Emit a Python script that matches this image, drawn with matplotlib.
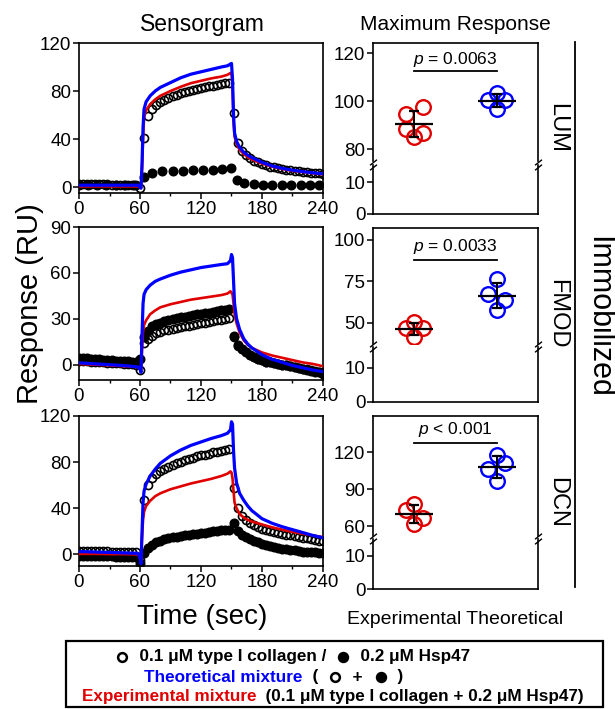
import matplotlib
matplotlib.use('Agg')
import matplotlib.pyplot as plt
import matplotlib.transforms as mtransforms
import numpy as np
from matplotlib.lines import Line2D
from matplotlib.patches import Rectangle
from matplotlib.ticker import MultipleLocator

plt.rcParams['font.family'] = ['Liberation Sans', 'DejaVu Sans']
plt.rcParams['mathtext.fontset'] = 'custom'
plt.rcParams['mathtext.it'] = 'Liberation Sans:italic'
plt.rcParams['mathtext.rm'] = 'Liberation Sans'

W, H = 615, 709
RED = '#e00000'
BLUE = '#0000ff'

# ---- sensorgram data ----
# circles (0.1 uM collagen, 0.2 uM Hsp47) read every 4 s
t_circ = np.arange(0, 241, 4)
# lines (theoretical / experimental mixture)
t_line = [0, 10, 20, 30, 40, 50, 58, 60, 61, 62, 63, 64, 66, 70, 75, 80, 90, 100,
          110, 120, 130, 140, 146, 149, 150, 151, 152, 153, 155, 158, 162, 166,
          170, 180, 190, 200, 210, 220, 230, 240]

lum_coll = [2.5, 2.5, 2.5, 2.5, 2.5, 2.5, 2.5, 2.5, 2, 2, 2, 2, 2, 2, 2,
            -0.5, 41, 59, 65, 68, 70.5, 72.5, 74, 75.5, 77, 78, 79, 80, 81, 82,
            82.5, 83.5, 84, 84.5, 85, 86, 86.5, 87, 61.5, 37, 30, 26.5, 24, 22,
            20.5, 19, 18, 17, 16.5, 15.5, 15, 14.5, 14, 13.5, 13, 12.5, 12.5,
            12, 11.5, 11.5, 11]
lum_hsp_t = [0, 9, 18, 27, 36, 45, 54, 64, 72, 82, 92, 102, 112, 122, 132, 141,
             150, 155, 162, 172, 181, 190, 200, 209, 218, 227, 236]
lum_hsp = [1.5, 1.5, 1.5, 1.5, 1.5, 1.5, 1.5, 8.5, 12, 13, 13.5, 13.5, 14, 14,
           14.5, 15, 16, 5.5, 3.5, 2.5, 2, 2, 1.5, 1.5, 1.5, 1.5, 1.5]
lum_theo = [1.5, 1.5, 1.5, 1.5, 1.5, 1.5, 1.5, 0, -1, 20, 50, 65, 71, 76, 80, 83,
            87, 91, 94, 96, 98, 100, 101, 102.5, 103, 90, 60, 45, 38, 33, 29,
            26.5, 24.5, 20.5, 17.5, 15.5, 14, 12.8, 11.8, 11]
lum_expt = [0.5, 0.5, 0.5, 0.5, 0.5, 0.5, 0.5, 0, -0.5, 15, 40, 58, 64, 69, 73,
            76, 80, 83.5, 86.5, 88.5, 90.5, 92, 93.5, 95, 95, 85, 55, 42, 36, 31,
            27.5, 25, 23, 19.5, 17, 15, 13.5, 12.5, 11.5, 10.5]

fmod_coll = [2.5, 2.3, 2.2, 2, 1.8, 1.6, 1.5, 1.3, 1.1, 1, 0.8, 0.6, 0.4, 0.2, 0,
             -3.5, 14, 16.5, 19, 20.5, 21.5, 22.5, 23, 23.5, 24, 24.5, 25, 25.5,
             26, 26.5, 27, 27.5, 28, 28.5, 29, 29.5, 30, 30.5, 18, 12.5, 10, 8,
             6.5, 5, 4, 3, 2, 1.5, 1, 0.5, 0, -0.5, -1, -1.5, -2, -2.5, -3, -3.5,
             -4, -4.5, -5]
fmod_hsp = [4.5, 4.3, 4.1, 3.9, 3.7, 3.5, 3.3, 3.1, 2.9, 2.7, 2.5, 2.3, 2.1, 1.9,
            1.7, 3.5, 18, 22, 25, 26.5, 27.5, 28.5, 29.5, 30, 30.5, 31, 31.5, 32,
            32.5, 33, 33, 33.5, 34, 34.5, 35, 35.5, 36, 36.5, 19, 13, 10, 8, 6.5,
            5, 4, 3, 2, 1.5, 1, 0.5, 0, -0.5, -1, -1.5, -2, -2.5, -3.5, -4, -4.5,
            -5, -6]
fmod_theo = [1.2, 0.8, 0.4, 0, -0.4, -0.9, -1.5, -3, -5, 20, 40, 46, 49, 52, 54.5,
             56, 58.5, 60.5, 62, 63.5, 64.5, 65.5, 66, 68, 72, 70, 55, 40, 30, 23,
             17, 13.5, 11, 6.5, 3.5, 1.5, -0.5, -2, -3.5, -4.5]
fmod_expt = [0.5, 0.2, -0.1, -0.4, -0.8, -1.2, -1.6, -2.5, -4, 10, 22, 26, 29, 33,
             35.5, 37.5, 39.5, 41, 42.5, 43.5, 44.5, 45.5, 46.5, 48, 47, 46, 40,
             33, 27, 21, 16, 13, 11, 8, 6, 4.5, 3, 1.5, 0.5, -1]

dcn_coll = [3, 3, 3, 3, 2.8, 2.8, 2.6, 2.6, 2.4, 2.4, 2.2, 2.2, 2, 2, 2, -5, 47,
            60, 66, 70, 72, 74, 76, 77.5, 79, 80, 81.5, 82.5, 84, 85, 86, 86.5,
            87.5, 88.5, 89, 90, 90.5, 91, 57.5, 40, 33, 30, 27.5, 25.5, 24, 22.5,
            21.5, 20.5, 19.5, 18.5, 18, 17, 16.5, 16, 15, 14.5, 14, 13, 12.5, 12,
            11.5]
dcn_hsp = [-1, -1, -1, -1.2, -1.2, -1.4, -1.4, -1.6, -1.6, -1.8, -1.8, -2, -2, -2,
           -2.5, -7, 1, 6, 8.5, 10.5, 12, 13, 14, 15, 15.5, 16, 16.5, 17, 17.5,
           18, 18.5, 19, 19.5, 20, 20.5, 21, 21, 21.5, 27.5, 20, 17, 15, 13.5, 12,
           10.5, 9.5, 8.5, 7.5, 6.5, 6, 5, 4.5, 4, 3.5, 3, 2.5, 2.5, 2, 2, 1.5,
           1.5]
dcn_theo = [2.5, 2.3, 2, 1.8, 1.5, 1.2, 1, -3, -8, 20, 45, 55, 61, 68, 74, 79,
            85.5, 90.5, 94.5, 97.5, 100.5, 103, 105, 108, 115, 113, 90, 75, 62,
            53, 47, 42, 38, 31, 27, 24, 21.5, 19, 16.5, 14.5]
dcn_expt = [0.5, 0.5, 0.5, 0.3, 0.3, 0.2, 0, -3, -6, 15, 30, 37, 42, 46.5, 50.5,
            53, 56.5, 59, 61.5, 63.5, 65.5, 68, 70, 72, 71, 66, 55, 45, 40, 35,
            32, 30, 28.5, 26, 23.5, 21.5, 19.5, 18, 16.5, 15]

# ---- maximum response data ----
lum_exp_max = [97.6, 94.6, 88.5, 86.5, 85.1]
lum_theo_max = [103.2, 100.3, 100.3, 96.8]
fmod_exp_max = [50.4, 47.0, 47.0, 41.4]
fmod_theo_max = [76.2, 67.4, 64.0, 58.0]
dcn_exp_max = [77.8, 72.9, 66.1, 61.6]
dcn_theo_max = [117.3, 111.0, 106.5, 96.6]
p_labels = ['$p$ = 0.0063', '$p$ = 0.0033', '$p$ < 0.001']
panel_names = ['LUM', 'FMOD', 'DCN']

# horizontal scatter offsets (in steps) for overlapping points
lum_exp_jit = [1, -1, -1, 1, 0]
four_jit = [0, -1, 1, 0]
dcn_theo_jit = [0, 1, -1, 0]

fig = plt.figure(figsize=(W / 100, H / 100), dpi=100)


def px_axes(x0, y0, x1, y1):
    return fig.add_axes([x0 / W, 1 - y1 / H, (x1 - x0) / W, (y1 - y0) / H])


def style_ticks(ax):
    ax.tick_params(direction='out', length=4, width=1.1, labelsize=13.5, pad=1.5)
    ax.tick_params(which='minor', direction='out', length=2.5, width=1.0)
    for s in ax.spines.values():
        s.set_linewidth(1.2)


def sensorgram(ax, coll, hsp_t, hsp, theo, expt, ylim, yticks):
    ax.plot(t_circ, coll, 'o', ms=5.8, mfc='none', mec='k', mew=1.2, zorder=2)
    ax.plot(hsp_t, hsp, 'o', ms=6.2, mfc='k', mec='k', zorder=3)
    ax.plot(t_line, expt, color=RED, lw=1.9, zorder=4)
    ax.plot(t_line, theo, color=BLUE, lw=2.3, zorder=5)
    ax.set_xlim(0, 240)
    ax.set_ylim(*ylim)
    ax.set_xticks([0, 60, 120, 180, 240])
    ax.xaxis.set_minor_locator(MultipleLocator(30))
    ax.set_yticks(yticks)
    style_ticks(ax)


ax1 = px_axes(79, 43, 323, 193)
sensorgram(ax1, lum_coll, lum_hsp_t, lum_hsp, lum_theo, lum_expt, (-5, 120), [0, 40, 80, 120])
ax2 = px_axes(79, 227, 323, 380)
sensorgram(ax2, fmod_coll, t_circ, fmod_hsp, fmod_theo, fmod_expt, (-10, 90), [0, 30, 60, 90])
ax3 = px_axes(79, 416, 323, 566)
sensorgram(ax3, dcn_coll, t_circ, dcn_hsp, dcn_theo, dcn_expt, (-10, 120), [0, 40, 80, 120])


def break_marks(ax):
    for xa in (0, 1):
        for dy in (-2.2, 2.2):
            off = mtransforms.ScaledTranslation(0, dy / 100, fig.dpi_scale_trans)
            ax.plot([xa], [1], transform=ax.transAxes + off, marker=[(-1, -0.8), (1, 0.8)],
                    ms=5, mec='k', mew=1.0, ls='none', clip_on=False, zorder=10)


def max_panel(box, split, hi_lim, hi_ticks, lo_top, exp_vals, exp_jit, theo_vals,
              theo_jit, ptxt, p_y, bar_y):
    x0, y0, x1, y1 = box
    hi = px_axes(x0, y0, x1, split - 1.5)
    lo = px_axes(x0, split + 1.5, x1, y1)
    for ax, vals, jit, col, xc in ((hi, exp_vals, exp_jit, RED, 1), (hi, theo_vals, theo_jit, BLUE, 2)):
        xs = xc + 0.105 * np.array(jit)
        ax.plot(xs, vals, 'o', ms=10.5, mfc='none', mec=col, mew=1.7, zorder=3)
        ax.errorbar([xc], [np.mean(vals)], yerr=[np.std(vals, ddof=1)], fmt='_', ms=27,
                    mew=1.6, color='k', elinewidth=1.4, capsize=3.5, capthick=1.4, zorder=4)
    hi.plot([1, 2], [bar_y, bar_y], color='k', lw=1.3)
    hi.text(1.5, p_y, ptxt, ha='center', va='center', fontsize=12.5)
    for ax in (hi, lo):
        ax.set_xlim(0.5, 2.5)
        ax.set_xticks([])
        style_ticks(ax)
    hi.set_ylim(*hi_lim)
    hi.set_yticks(hi_ticks)
    hi.spines['bottom'].set_visible(False)
    lo.set_ylim(0, lo_top)
    lo.set_yticks([0, 10])
    lo.spines['top'].set_visible(False)
    break_marks(lo)
    return hi, lo


max_panel((373, 43, 538, 214), 163, (74.8, 124.2), [80, 100, 120], 15.5,
          lum_exp_max, lum_exp_jit, lum_theo_max, four_jit, p_labels[0], 117.5, 112.5)
max_panel((373, 228, 538, 402), 345, (37.6, 107.2), [50, 75, 100], 16.3,
          fmod_exp_max, four_jit, fmod_theo_max, four_jit, p_labels[1], 96, 88)
max_panel((373, 416, 538, 589), 537, (52.3, 149.2), [60, 90, 120], 15.3,
          dcn_exp_max, four_jit, dcn_theo_max, dcn_theo_jit, p_labels[2], 138, 127.5)


def ftext(x, y, s, **kw):
    return fig.text(x / W, 1 - y / H, s, ha='center', va='center', **kw)


ftext(202, 25, 'Sensorgram', fontsize=16.5)
ftext(455, 25, 'Maximum Response', fontsize=15)
ftext(30, 304, 'Response (RU)', fontsize=21, rotation=90)
ftext(202, 617, 'Time (sec)', fontsize=20)
ftext(455, 620, 'Experimental Theoretical', fontsize=14)
for name, yc in zip(panel_names, (128, 314, 502)):
    ftext(557, yc, name, fontsize=17, rotation=-90)
ftext(598, 317, 'Immobilized', fontsize=22, rotation=-90)
fig.add_artist(Line2D([575 / W, 575 / W], [1 - 42 / H, 1 - 587 / H], color='k', lw=1.3))

# legend box
fig.add_artist(Rectangle((66 / W, 1 - 707 / H), (603 - 66) / W, (707 - 641) / H,
                         fill=False, ec='k', lw=1.6))

GAP = 16  # room (px) reserved for a legend marker inside a text line


def centered_line(xc, yc, pieces, size=12.3):
    # pieces: text with colour, or a marker key ('open' / 'filled')
    renderer = fig.canvas.get_renderer()
    items = []
    for p, c in pieces:
        if p in ('open', 'filled'):
            items.append((p, GAP))
        else:
            t = fig.text(0, 1 - yc / H, p, color=c, fontsize=size, fontweight='bold',
                         ha='left', va='center')
            items.append((t, t.get_window_extent(renderer).width))
    x = xc - sum(w for _, w in items) / 2
    for it, w in items:
        if it == 'open':
            fig.add_artist(Line2D([(x + w / 2) / W], [1 - yc / H], marker='o', ms=6.3,
                                  mfc='none', mec='k', mew=1.8, ls='none'))
        elif it == 'filled':
            fig.add_artist(Line2D([(x + w / 2) / W], [1 - yc / H], marker='o', ms=7.2,
                                  mfc='k', mec='k', ls='none'))
        else:
            it.set_x(x / W)
        x += w


centered_line(292, 657, [('open', 'k'), ('  0.1 \u03bcM type I collagen /  ', 'k'), ('filled', 'k'),
                         ('  0.2 \u03bcM Hsp47', 'k')])
centered_line(274, 677, [('Theoretical mixture', BLUE), ('  (  ', 'k'), ('open', 'k'), ('  +  ', 'k'),
                         ('filled', 'k'), ('  )', 'k')])
centered_line(333, 697, [('Experimental mixture', RED),
                         ('  (0.1 \u03bcM type I collagen + 0.2 \u03bcM Hsp47)', 'k')])

fig.savefig('out.png', dpi=100)
